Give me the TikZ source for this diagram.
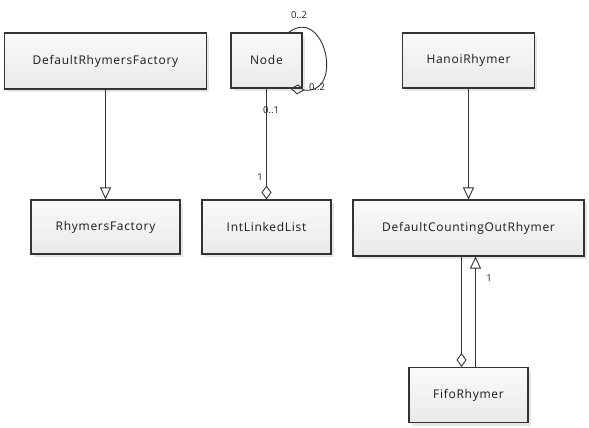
\documentclass[tikz,border=0pt]{standalone}
\usepackage{fontspec}
\setmainfont{Open Sans}
\newfontfamily\boxfont[LetterSpace=6]{Open Sans}
\usetikzlibrary{arrows.meta,shadows}
\definecolor{boxline}{HTML}{333333}
\definecolor{txt}{HTML}{1A1A1A}
\tikzset{
  cls/.style={draw=boxline, line width=1.1pt, top color=gray!4, bottom color=gray!17,
    inner sep=0pt, text=txt, font=\boxfont\fontsize{12}{14}\selectfont,
    drop shadow={shadow xshift=2.5pt, shadow yshift=-3pt, opacity=0.22, fill=black!45}},
  gen/.style={draw=boxline, line width=0.9pt, -{Triangle[open, length=12pt, width=11pt, line width=0.9pt]}},
  agg/.style={draw=boxline, line width=0.9pt, -{Diamond[open, length=14pt, width=10pt, line width=0.9pt]}},
  lbl/.style={font=\fontsize{9.5}{11}\selectfont, inner sep=1pt, text=txt}
}
\begin{document}
\begin{tikzpicture}[x=1pt,y=-1pt]
\useasboundingbox (0,0) rectangle (589,428);
\node[cls, minimum width=202pt, minimum height=56pt] (drf) at (105.5,61) {DefaultRhymersFactory};
\node[cls, minimum width=71pt, minimum height=55pt] (nd) at (266.5,60.5) {Node};
\node[cls, minimum width=132pt, minimum height=55pt] (hr) at (468.5,60.5) {HanoiRhymer};
\node[cls, minimum width=149pt, minimum height=54pt] (rf) at (105.5,227) {RhymersFactory};
\node[cls, minimum width=129pt, minimum height=54pt] (ill) at (266.5,227) {IntLinkedList};
\node[cls, minimum width=231pt, minimum height=56pt] (dcor) at (468.5,228) {DefaultCountingOutRhymer};
\node[cls, minimum width=119pt, minimum height=55pt] (fifo) at (468.5,395) {FifoRhymer};

\draw[gen] (drf.south) -- (rf.north);
\draw[gen] (hr.south) -- (dcor.north);
\draw[agg] (nd.south) -- (ill.north);
\draw[agg] ([xshift=-7pt]dcor.south) -- ([xshift=-7pt]fifo.north);
\draw[gen] ([xshift=7pt]fifo.north) -- ([xshift=7pt]dcor.south);
\draw[agg] ([xshift=-14pt]nd.north east) .. controls (325,5) and (345,95) .. ([xshift=-12pt]nd.south east);

\node[lbl] (l1) at (299,15) {0..2};
\node[lbl] (l2) at (317,87) {0..2};
\node[lbl] (l3) at (271,110) {0..1};
\node[lbl] (l4) at (260,177) {1};
\node[lbl] (l5) at (489,278) {1};
\end{tikzpicture}
\end{document}
